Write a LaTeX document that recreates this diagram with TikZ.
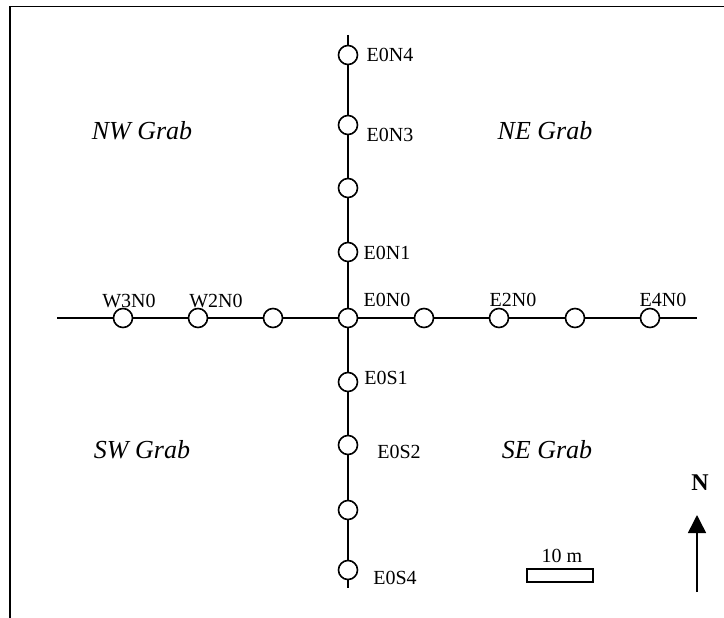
\documentclass[tikz,border=0pt]{standalone}
\usepackage{fontspec}
\setmainfont{Liberation Serif}
\usetikzlibrary{arrows.meta}
\begin{document}
\begin{tikzpicture}[x=1pt,y=-1pt,
  stn/.style={circle,draw,line width=1.6pt,fill=white,minimum size=19pt,inner sep=0pt},
  lbl/.style={inner sep=0pt,font=\fontsize{20}{24}\selectfont},
  grab/.style={inner sep=0pt,font=\fontsize{26}{30}\selectfont\itshape},
  axis/.style={line width=1.8pt}]
\useasboundingbox (0,0) rectangle (724,618);
% frame
\draw[line width=1.8pt] (10,618) -- (10,6.5) -- (724,6.5);
% coordinates of line ends
\coordinate (hL) at (57,318);
\coordinate (hR) at (697,318);
\coordinate (vT) at (348,35);
\coordinate (vB) at (348,588);
% stations
\node[stn] (c) at (348,318) {};
\node[stn] (w3) at (123,318) {};
\node[stn] (w2) at (198,318) {};
\node[stn] (w1) at (273,318) {};
\node[stn] (e1) at (424,318) {};
\node[stn] (e2) at (499,318) {};
\node[stn] (e3) at (575,318) {};
\node[stn] (e4) at (650,318) {};
\node[stn] (n4) at (348,55) {};
\node[stn] (n3) at (348,125) {};
\node[stn] (n2) at (348,188) {};
\node[stn] (n1) at (348,252) {};
\node[stn] (s1) at (348,382) {};
\node[stn] (s2) at (348,445) {};
\node[stn] (s3) at (348,510) {};
\node[stn] (s4) at (348,570) {};
% lines
\draw[axis] (hL) -- (w3) -- (w2) -- (w1) -- (c) -- (e1) -- (e2) -- (e3) -- (e4) -- (hR);
\draw[axis] (vT) -- (n4) -- (n3) -- (n2) -- (n1) -- (c) -- (s1) -- (s2) -- (s3) -- (s4) -- (vB);
% station labels
\node[lbl] (lw3) at (129,301) {W3N0};
\node[lbl] (lw2) at (216,301) {W2N0};
\node[lbl] (lc) at (387,300) {E0N0};
\node[lbl] (le2) at (513,300) {E2N0};
\node[lbl] (le4) at (663,300) {E4N0};
\node[lbl] (ln4) at (390,55) {E0N4};
\node[lbl] (ln3) at (390,135) {E0N3};
\node[lbl] (ln1) at (387,253) {E0N1};
\node[lbl] (ls1) at (386,378) {E0S1};
\node[lbl] (ls2) at (399,452) {E0S2};
\node[lbl] (ls4) at (395,578) {E0S4};
% quadrant labels
\node[grab] (nw) at (142,131) {NW Grab};
\node[grab] (ne) at (545,131) {NE Grab};
\node[grab] (sw) at (142,450) {SW Grab};
\node[grab] (se) at (547,450) {SE Grab};
% scale bar
\node[draw,line width=1.2pt,minimum width=66pt,minimum height=13pt,inner sep=0pt] (bar) at (560,575.5) {};
\node[lbl,anchor=base] (bartxt) at (562,562) {10 m};
% north arrow
\node[inner sep=0pt,font=\fontsize{24}{28}\selectfont\bfseries] (nlab) at (700,483) {N};
\coordinate (aB) at (697,592);
\coordinate (aT) at (697,515);
\draw[line width=1.5pt,-{Triangle[length=18pt,width=18pt]}] (aB) -- (aT);
\end{tikzpicture}
\end{document}
